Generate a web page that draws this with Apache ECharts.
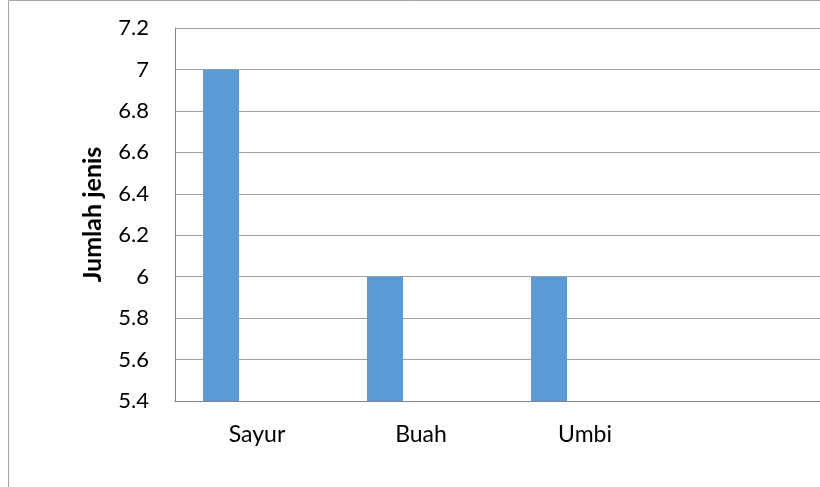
<!DOCTYPE html>
<html>
<head>
<meta charset="utf-8">
<script src="https://cdn.jsdelivr.net/npm/echarts@6/dist/echarts.min.js"></script>
<style>
  html, body { margin: 0; padding: 0; background: #fff; }
  #chart { width: 820px; height: 487px; }
</style>
</head>
<body>
<div id="chart"></div>
<script>
// categories, the 4th slot is empty like in the source sheet
const categories = ['Sayur', 'Buah', 'Umbi', '']
const jumlahJenis = [7, 6, 6, null]
// second series of the sheet has no values
const seriesKosong = [null, null, null, null]
const yMin = 5.4
const yMax = 7.2
const yStep = 0.2

const font = 'Lato, "Open Sans", sans-serif'
const chart = echarts.init(document.getElementById('chart'))

const option = {
    animation: false,
    grid: {
        left: 175,
        width: 656,
        top: 28,
        bottom: 86,
        containLabel: false,
        outerBoundsMode: 'none'
    },
    graphic: [{
        type: 'rect',
        shape: { x: 8.5, y: 0.5, width: 900, height: 600 },
        style: { fill: 'none', stroke: '#a6a6a6', lineWidth: 1 },
        silent: true
    }],
    xAxis: {
        type: 'category',
        data: categories,
        axisLine: { show: true, lineStyle: { color: '#868686', width: 1 } },
        axisTick: { show: false },
        axisLabel: {
            color: '#000',
            fontSize: 23,
            fontFamily: font,
            margin: 22
        },
        splitLine: { show: false }
    },
    yAxis: {
        type: 'value',
        min: yMin,
        max: yMax,
        interval: yStep,
        name: 'Jumlah jenis',
        nameLocation: 'middle',
        nameGap: 70,
        nameTextStyle: {
            color: '#000',
            fontSize: 25,
            fontWeight: 'bold',
            fontFamily: font
        },
        axisLine: { show: true, lineStyle: { color: '#868686', width: 1 } },
        axisTick: { show: false },
        axisLabel: {
            color: '#000',
            fontSize: 22,
            fontFamily: font,
            margin: 26,
            formatter(v) {
                return String(Math.round(v * 10) / 10)
            }
        },
        splitLine: { show: true, lineStyle: { color: '#a0a0a0', width: 1 } }
    },
    series: [{
        type: 'bar',
        data: jumlahJenis,
        barWidth: 36,
        barGap: '100%',
        itemStyle: { color: '#5b9bd5' }
    }, {
        type: 'bar',
        data: seriesKosong,
        barWidth: 36,
        itemStyle: { color: '#ed7d31' }
    }]
}
chart.setOption(option)
</script>
</body>
</html>
